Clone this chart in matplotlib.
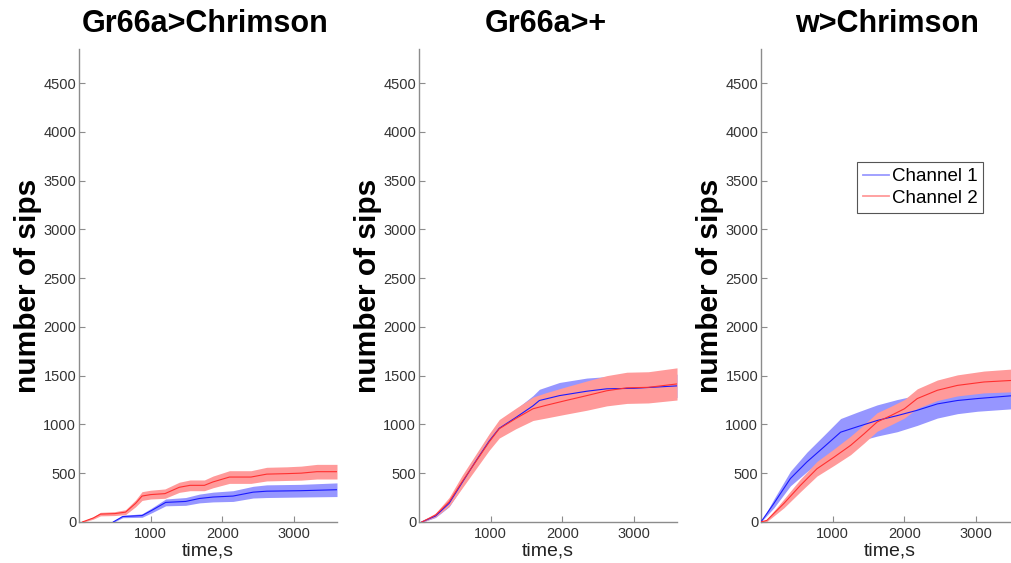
import numpy as np
import matplotlib.pyplot as plt
from matplotlib.lines import Line2D

plt.rcParams['font.family'] = ['Liberation Sans', 'DejaVu Sans']

# ── data (time in s, mean and half-width of band) ──
titles = ['Gr66a>Chrimson', 'Gr66a>+', 'w>Chrimson']

# panel 1 : Gr66a>Chrimson
p1_ch1_t   = [480, 610, 880, 1020, 1210, 1490, 1680, 1870, 2150, 2430, 2620, 3090, 3600]
p1_ch1_m   = [0, 55, 65, 120, 200, 210, 240, 255, 265, 305, 315, 320, 330]
p1_ch1_err = [5, 12, 18, 25, 35, 40, 45, 50, 55, 60, 65, 65, 70]
p1_ch2_t   = [50, 200, 300, 500, 650, 790, 880, 1000, 1200, 1400, 1550, 1750, 1870,
              2100, 2400, 2620, 2900, 3100, 3320, 3600]
p1_ch2_m   = [0, 40, 80, 85, 100, 190, 265, 280, 290, 355, 375, 375, 410,
              460, 460, 490, 495, 500, 515, 515]
p1_ch2_err = [5, 12, 18, 20, 25, 35, 45, 45, 48, 52, 55, 55, 60,
              65, 65, 70, 70, 72, 75, 75]

# panel 2 : Gr66a>+
p2_ch1_t   = [40, 230, 420, 600, 790, 980, 1120, 1350, 1590, 1680, 1960, 2340, 2620, 3000, 3600]
p2_ch1_m   = [0, 60, 190, 400, 620, 830, 960, 1070, 1190, 1245, 1295, 1340, 1365, 1370, 1395]
p2_ch1_err = [5, 15, 35, 45, 55, 65, 75, 85, 105, 115, 135, 135, 125, 120, 120]
p2_ch2_t   = [40, 230, 420, 600, 790, 980, 1120, 1350, 1590, 1770, 2050, 2340, 2620,
              2900, 3200, 3600]
p2_ch2_m   = [0, 70, 205, 410, 615, 820, 955, 1060, 1160, 1195, 1245, 1295, 1345,
              1375, 1380, 1415]
p2_ch2_err = [5, 20, 45, 65, 75, 85, 95, 105, 120, 130, 140, 150, 155, 160, 160, 165]

# panel 3 : w>Chrimson
p3_ch1_t   = [0, 180, 410, 640, 880, 1110, 1340, 1620, 1900, 2180, 2460, 2740, 3020, 3600]
p3_ch1_m   = [0, 190, 445, 615, 770, 920, 975, 1040, 1090, 1145, 1210, 1245, 1265, 1300]
p3_ch1_err = [0, 45, 75, 100, 120, 140, 150, 160, 165, 155, 145, 135, 130, 135]
p3_ch2_t   = [0, 80, 320, 550, 780, 1020, 1250, 1440, 1620, 1810, 2000, 2180, 2460,
              2740, 3110, 3600]
p3_ch2_m   = [0, 15, 190, 375, 545, 665, 785, 905, 1025, 1090, 1160, 1265, 1350,
              1400, 1435, 1455]
p3_ch2_err = [0, 12, 45, 65, 75, 85, 95, 95, 95, 95, 95, 100, 105, 108, 112, 118]

panels = [
    ((p1_ch1_t, p1_ch1_m, p1_ch1_err), (p1_ch2_t, p1_ch2_m, p1_ch2_err)),
    ((p2_ch1_t, p2_ch1_m, p2_ch1_err), (p2_ch2_t, p2_ch2_m, p2_ch2_err)),
    ((p3_ch1_t, p3_ch1_m, p3_ch1_err), (p3_ch2_t, p3_ch2_m, p3_ch2_err)),
]

yticks = np.arange(0, 4501, 500)
xticks = [1000, 2000, 3000]

band_col = ['#9696ff', '#ff9a9a']
line_col = ['#1a1aff', '#ff3030']
spine_col = '#8c8c8c'

# ── figure ────────────────────────────────────────────────
fig = plt.figure(figsize=(10.12, 5.63), dpi=100)
lefts = [0.078, 0.414, 0.752]

for i, (left, ch) in enumerate(zip(lefts, panels)):
    ax = fig.add_axes([left, 0.073, 0.255, 0.840])

    # bands first, then mean lines on top
    for k, (t, m, e) in enumerate(ch):
        t, m, e = np.array(t), np.array(m), np.array(e)
        ax.fill_between(t, m - e, m + e, color=band_col[k], lw=0, zorder=1 + k)
    for k, (t, m, e) in enumerate(ch):
        ax.plot(t, m, color=line_col[k], lw=0.8, zorder=5)

    ax.set_xlim(0, 3600)
    ax.set_ylim(0, 4850)
    ax.set_yticks(yticks)
    ax.set_xticks(xticks)
    for s in ['top', 'right']:
        ax.spines[s].set_visible(False)
    for s in ['left', 'bottom']:
        ax.spines[s].set_color(spine_col)
        ax.spines[s].set_linewidth(1.0)
    ax.tick_params(direction='in', length=4, width=0.8, color=spine_col,
                   labelsize=10.5, labelcolor='#333333')
    ax.tick_params(axis='y', pad=2)
    ax.tick_params(axis='x', pad=4)

    ax.set_title(titles[i], fontsize=22, fontweight='bold', pad=12, x=0.49)
    ax.set_ylabel('number of sips', fontsize=21.5, fontweight='bold')
    ax.yaxis.set_label_coords(-0.145, 0.5)
    ax.set_xlabel('time,s', fontsize=14, labelpad=1, color='#222222')

    if i == 2:
        handles = [Line2D([], [], color='#9a9aff', lw=1.3),
                   Line2D([], [], color='#ff9a9a', lw=1.3)]
        leg = ax.legend(handles, ['Channel 1', 'Channel 2'], loc='upper right',
                        bbox_to_anchor=(0.862, 0.76), fontsize=13.5,
                        fancybox=False, framealpha=1, edgecolor='#555555',
                        handlelength=1.4, handletextpad=0.15, borderpad=0.3,
                        labelspacing=0.25, borderaxespad=0)
        leg.get_frame().set_linewidth(0.8)

plt.savefig('out.png', dpi=100)
